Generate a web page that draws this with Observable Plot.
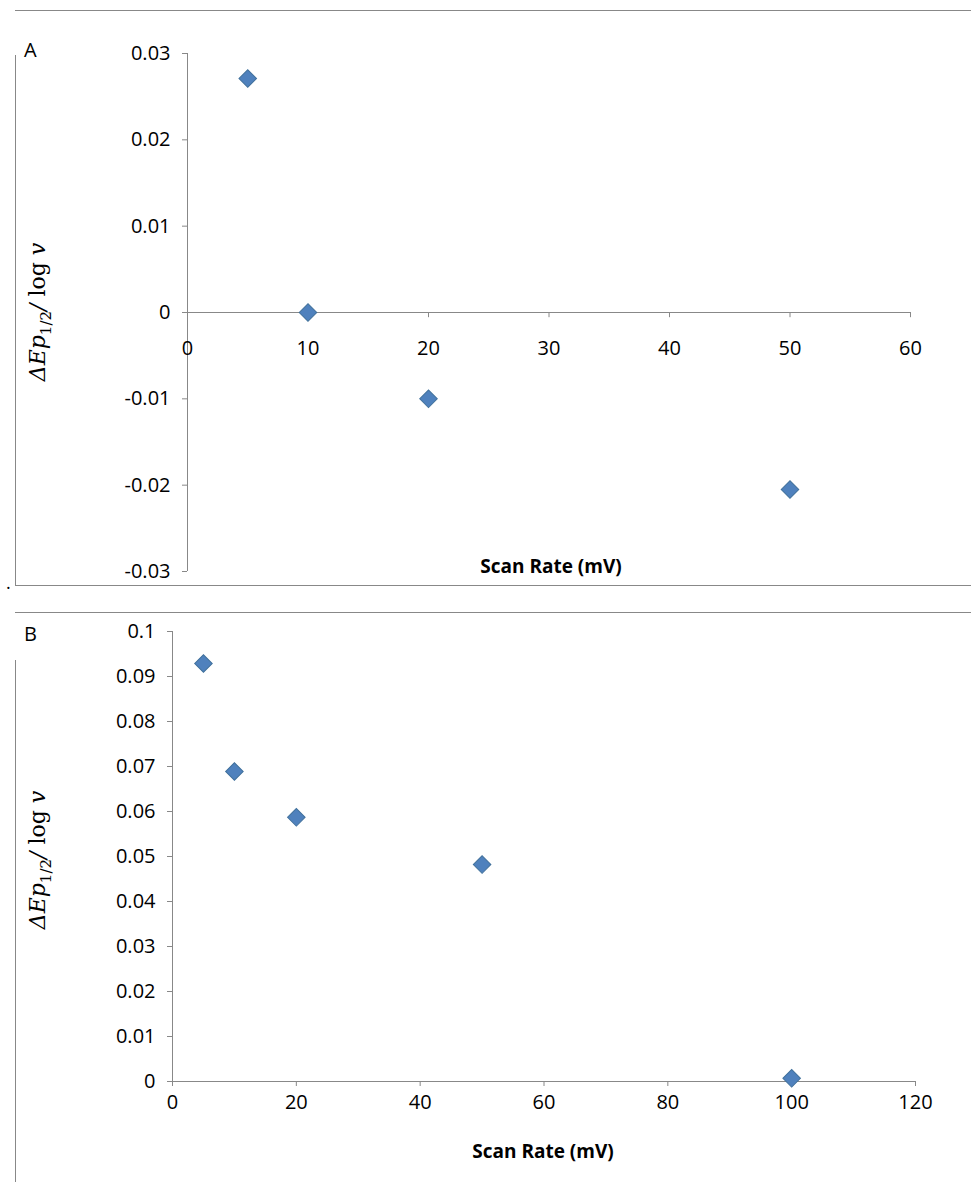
<!DOCTYPE html>
<html>
<head>
<meta charset="UTF-8">
<script src="https://cdn.jsdelivr.net/npm/d3@7"></script>
<script src="https://cdn.jsdelivr.net/npm/@observablehq/plot@0.6"></script>
<style>
  body { margin: 0; background: #fff; font-family: "Open Sans", "Liberation Sans", sans-serif; }
  #page { position: relative; width: 971px; height: 1182px; }
  .line { position: absolute; background: #888; }
  .abs { position: absolute; }
  .ylab { position: absolute; font-family: "DejaVu Serif", serif; font-style: italic; font-size: 22px;
          transform: translate(-50%, -50%) rotate(-90deg); white-space: nowrap; }
  .ylab .up { font-style: normal; }
  .xlab { position: absolute; font-weight: bold; font-size: 19px; transform: translateX(-50%); }
  svg text { font-family: "Open Sans", "Liberation Sans", sans-serif; }
</style>
</head>
<body>
<div id="page">
  <div class="line" style="left:15px;top:10px;width:956px;height:1px"></div>
  <div class="line" style="left:15px;top:55px;width:1px;height:530px"></div>
  <div class="line" style="left:15px;top:585px;width:956px;height:1px"></div>
  <div class="line" style="left:15px;top:612px;width:956px;height:1px"></div>
  <div class="line" style="left:15px;top:660px;width:1px;height:522px"></div>
  <div class="abs" style="left:6px;top:570px;font-size:18px">.</div>
  <div id="chartA" class="abs" style="left:0;top:10px"></div>
  <div id="chartB" class="abs" style="left:0;top:612px"></div>
  <div class="abs" style="left:24px;top:36px;font-size:20px">A</div>
  <div class="abs" style="left:24px;top:620px;font-size:20px">B</div>
  <div class="ylab" style="left:40px;top:312px">ΔEp<sub style="font-size:15px" class="up">1/2</sub>/ <span class="up">log</span> v</div>
  <div class="ylab" style="left:40px;top:860px">ΔEp<sub style="font-size:15px" class="up">1/2</sub>/ <span class="up">log</span> v</div>
  <div class="xlab" style="left:551px;top:553px">Scan Rate (mV)</div>
  <div class="xlab" style="left:543px;top:1138px">Scan Rate (mV)</div>
</div>
<script>
// Panel A
const rateA = [5, 10, 20, 50];
const valA = [0.0271, 0, -0.01, -0.0205];
const xTicksA = [0, 10, 20, 30, 40, 50, 60];
const yTicksA = [-0.03, -0.02, -0.01, 0, 0.01, 0.02, 0.03];

// Panel B
const rateB = [5, 10, 20, 50, 100];
const valB = [0.0929, 0.0689, 0.0587, 0.0482, 0.0007];
const xTicksB = [0, 20, 40, 60, 80, 100, 120];
const yTicksB = [0, 0.01, 0.02, 0.03, 0.04, 0.05, 0.06, 0.07, 0.08, 0.09, 0.1];

const dotStyle = { symbol: "square", rotate: 45, r: 7, fill: "#4f81bd", stroke: "#41719c", strokeWidth: 1 };
const fmt = d => String(d);

const dataA = rateA.map((x, i) => ({ x, y: valA[i] }));
const plotA = Plot.plot({
  width: 971, height: 575,
  marginLeft: 187, marginRight: 61, marginTop: 43, marginBottom: 14,
  style: { fontSize: "20px", color: "#000" },
  x: { domain: [0, 60], axis: null },
  y: { domain: [-0.03, 0.03] },
  marks: [
    Plot.axisY({ ticks: yTicksA, tickFormat: fmt, tickSize: 5, label: null, tickPadding: 12, stroke: "#888" }),
    Plot.ruleX([0], { stroke: "#888" }),
    Plot.ruleY([0], { stroke: "#888" }),
    Plot.ruleX(xTicksA, { y1: 0, y2: -0.0006, stroke: "#888" }),
    Plot.text(xTicksA, { x: d => d, y: 0, dy: 36, text: fmt, fontSize: 20 }),
    Plot.dot(dataA, { x: "x", y: "y", ...dotStyle })
  ]
});
document.querySelector("#chartA").append(plotA);

const dataB = rateB.map((x, i) => ({ x, y: valB[i] }));
const plotB = Plot.plot({
  width: 971, height: 570,
  marginLeft: 172, marginRight: 56, marginTop: 19, marginBottom: 101,
  style: { fontSize: "20px", color: "#000" },
  x: { domain: [0, 120] },
  y: { domain: [0, 0.1] },
  marks: [
    Plot.axisY({ ticks: yTicksB, tickFormat: fmt, tickSize: 5, label: null, tickPadding: 12, stroke: "#888" }),
    Plot.axisX({ ticks: xTicksB, tickFormat: fmt, tickSize: 5, label: null, tickPadding: 8, stroke: "#888" }),
    Plot.ruleX([0], { stroke: "#888" }),
    Plot.ruleY([0], { stroke: "#888" }),
    Plot.dot(dataB, { x: "x", y: "y", ...dotStyle })
  ]
});
document.querySelector("#chartB").append(plotB);
</script>
</body>
</html>
